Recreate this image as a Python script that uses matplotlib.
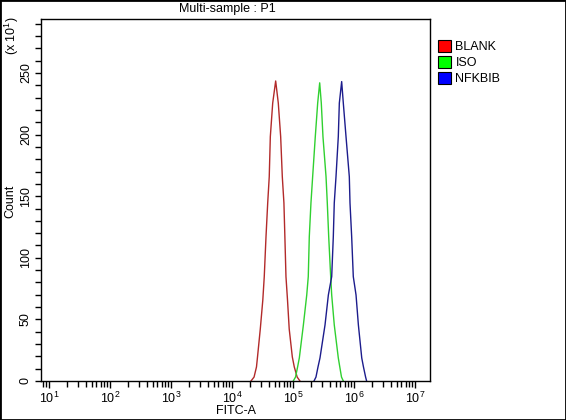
import matplotlib
matplotlib.use("Agg")
import matplotlib.pyplot as plt
from matplotlib.patches import Patch, Rectangle
from matplotlib.ticker import FixedLocator, LogLocator, NullFormatter

plt.rcParams['font.family'] = ['Liberation Sans', 'DejaVu Sans']
plt.rcParams['mathtext.fontset'] = 'custom'
plt.rcParams['mathtext.rm'] = 'Liberation Sans'
plt.rcParams['mathtext.it'] = 'Liberation Sans'

# ---- data (FITC-A value, count in units of x10) ----
series_names = ["BLANK", "ISO", "NFKBIB"]
series_colors = ["#b22a2a", "#30d030", "#1c1c8c"]
legend_colors = ["#ff0000", "#00ff00", "#0000ff"]

blank_x = [2.05e4, 2.30e4, 2.52e4, 2.62e4, 2.91e4, 3.20e4, 3.38e4, 3.61e4, 3.85e4, 4.08e4,
           4.25e4, 4.65e4, 5.20e4, 5.74e4, 6.28e4, 6.68e4, 7.10e4, 7.36e4, 7.67e4, 8.13e4,
           8.67e4, 9.75e4, 1.05e5, 1.17e5, 1.30e5]
blank_y = [0, 3.2, 11.4, 19.5, 42.2, 65.7, 84.7, 117.1, 144.5, 165.8,
           198.3, 225.6, 243.5, 225.6, 198.3, 165.8, 144.5, 117.1, 84.7, 65.7,
           42.2, 19.5, 11.4, 3.2, 0]

iso_x = [1.01e5, 1.10e5, 1.19e5, 1.27e5, 1.48e5, 1.68e5, 1.78e5, 1.85e5, 1.97e5, 2.10e5,
         2.32e5, 2.54e5, 2.74e5, 2.91e5, 3.10e5, 3.48e5, 3.65e5, 3.85e5, 4.15e5, 4.31e5,
         4.75e5, 5.53e5, 5.85e5, 6.24e5, 6.68e5]
iso_y = [0, 3.2, 11.4, 18.7, 45.5, 69.8, 84.7, 117.1, 144.5, 165.8,
         198.3, 225.6, 242.0, 225.6, 198.3, 165.8, 144.5, 117.1, 84.7, 69.8,
         45.5, 18.7, 11.4, 3.2, 0]

nfkbib_x = [2.21e5, 2.38e5, 2.57e5, 2.77e5, 3.35e5, 3.80e5, 4.31e5, 4.58e5, 4.75e5, 5.07e5,
            5.53e5, 5.75e5, 6.28e5, 6.68e5, 7.40e5, 8.38e5, 8.60e5, 9.16e5, 9.74e5, 1.08e6,
            1.18e6, 1.34e6, 1.43e6, 1.55e6, 1.61e6]
nfkbib_y = [0, 3.2, 11.4, 18.7, 45.5, 69.8, 84.7, 117.1, 144.5, 165.8,
            198.3, 225.6, 243.0, 225.6, 198.3, 165.8, 144.5, 117.1, 84.7, 69.8,
            45.5, 18.7, 11.4, 3.2, 0]

y_major = [0, 50, 100, 150, 200, 250]
x_major = [1e1, 1e2, 1e3, 1e4, 1e5, 1e6, 1e7]
x_labels = ["10$^{1}$", "10$^{2}$", "10$^{3}$", "10$^{4}$", "10$^{5}$", "10$^{6}$", "10$^{7}$"]

W, H = 566, 420
fig = plt.figure(figsize=(W / 100, H / 100), dpi=100)
fig.patch.set_facecolor("white")

L, R, T, B = 41, 430, 19, 381
ax = fig.add_axes([L / W, (H - B) / H, (R - L) / W, (B - T) / H])

for xs, ys, c in zip([blank_x, iso_x, nfkbib_x], [blank_y, iso_y, nfkbib_y], series_colors):
    ax.plot(xs, ys, color=c, lw=1.0)

ax.set_xscale("log")
ax.set_xlim(10 ** 0.869, 10 ** 7.246)
ax.set_ylim(0, 293.8)

ax.set_xticks(x_major)
ax.set_xticklabels(x_labels)
ax.xaxis.set_minor_locator(LogLocator(base=10, subs=range(2, 10)))
ax.xaxis.set_minor_formatter(NullFormatter())

ax.set_yticks(y_major)
ax.set_yticklabels([str(v) for v in y_major], rotation=90, va="center")
ax.yaxis.set_minor_locator(FixedLocator(range(0, 291, 10)))

ax.tick_params(axis="both", which="both", direction="out", width=1, colors="black", labelsize=9)
ax.tick_params(axis="x", which="major", length=5, pad=2)
ax.tick_params(axis="x", which="minor", length=4)
ax.tick_params(axis="y", which="both", length=4, pad=2.5)

for s in ax.spines.values():
    s.set_linewidth(1)
    s.set_color("black")

fig.text(227 / W, 1 - 9 / H, "Multi-sample : P1", ha="center", va="center", fontsize=9)
fig.text(236 / W, 1 - 411 / H, "FITC-A", ha="center", va="center", fontsize=9)
fig.text(10 / W, 1 - 201 / H, "Count", ha="center", va="center", rotation=90, fontsize=9)
fig.text(12 / W, 1 - 36 / H, "(x 10$^{1}$)", ha="center", va="center", rotation=90, fontsize=9)

handles = [Patch(facecolor=c, edgecolor="black", linewidth=0.8) for c in legend_colors]
fig.legend(handles, series_names, loc="upper left", bbox_to_anchor=(438 / W, 1 - 40 / H),
           frameon=False, fontsize=9, handlelength=1.05, handleheight=1.05,
           handletextpad=0.35, labelspacing=0.25, borderaxespad=0, borderpad=0)

fig.add_artist(Rectangle((0, 0), 1, 1, transform=fig.transFigure, fill=False,
                         edgecolor="black", linewidth=2))

fig.savefig("out.png", dpi=100)
